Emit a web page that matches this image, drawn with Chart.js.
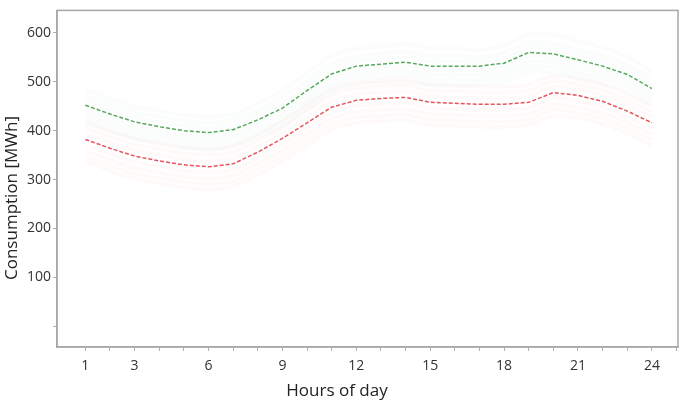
<!DOCTYPE html>
<html>
<head>
<meta charset="utf-8">
<script src="https://cdn.jsdelivr.net/npm/chart.js@4.4.1/dist/chart.umd.min.js"></script>
<style>
  body { margin: 0; background: #fff; }
  #wrap { width: 685px; height: 403px; position: relative; }
</style>
</head>
<body>
<div id="wrap"><canvas id="chart"></canvas></div>
<script>
// hours of the day
const hours = [1, 2, 3, 4, 5, 6, 7, 8, 9, 10, 11, 12, 13, 14, 15, 16, 17, 18, 19, 20, 21, 22, 23, 24];
const hourLabels = [1, 3, 6, 9, 12, 15, 18, 21, 24];
const yTicks = [0, 100, 200, 300, 400, 500, 600];

// mean profiles (dashed)
const greenMean = [452, 434, 418, 408, 400, 396, 402, 422, 446, 482, 516, 532, 536, 540, 532, 532, 532, 538, 560, 557, 545, 532, 515, 486];
const redMean = [382, 364, 348, 338, 330, 326, 332, 356, 384, 416, 448, 462, 466, 468, 458, 456, 454, 454, 458, 478, 472, 460, 440, 416];

// individual faint profiles
const greenDays = [
  [484, 466, 450, 440, 432, 428, 434, 456, 482, 518, 552, 568, 572, 576, 568, 568, 566, 574, 598, 596, 584, 570, 552, 520],
  [472, 455, 439, 428, 421, 416, 423, 442, 469, 503, 537, 551, 557, 561, 552, 553, 550, 559, 581, 577, 566, 553, 534, 505],
  [462, 444, 428, 418, 410, 406, 412, 432, 456, 492, 526, 542, 546, 550, 542, 542, 542, 548, 570, 568, 556, 542, 524, 494],
  [444, 427, 410, 401, 392, 389, 394, 415, 438, 475, 508, 525, 528, 533, 524, 525, 524, 531, 552, 549, 538, 525, 508, 479],
  [436, 418, 402, 392, 384, 380, 386, 406, 430, 464, 498, 514, 518, 522, 514, 514, 514, 520, 540, 540, 528, 516, 500, 470],
  [426, 409, 392, 383, 374, 371, 376, 397, 420, 455, 488, 505, 508, 513, 504, 505, 504, 511, 530, 531, 518, 507, 490, 463],
  [416, 398, 384, 374, 366, 362, 368, 388, 410, 444, 478, 494, 498, 500, 494, 494, 494, 500, 520, 520, 508, 496, 480, 452]
];
const redDays = [
  [418, 400, 384, 374, 366, 362, 368, 392, 420, 452, 484, 498, 502, 504, 494, 492, 490, 490, 494, 512, 506, 494, 474, 450],
  [406, 389, 372, 363, 354, 351, 356, 381, 408, 441, 472, 487, 490, 493, 482, 481, 478, 479, 482, 501, 494, 483, 462, 439],
  [394, 376, 360, 350, 342, 338, 344, 368, 396, 428, 460, 474, 478, 480, 470, 468, 466, 466, 470, 490, 484, 472, 452, 428],
  [370, 353, 336, 327, 318, 315, 320, 345, 372, 405, 436, 451, 454, 457, 446, 445, 442, 443, 446, 467, 460, 449, 428, 405],
  [358, 340, 324, 314, 306, 302, 308, 332, 360, 392, 424, 438, 442, 444, 434, 432, 430, 430, 434, 454, 448, 436, 416, 392],
  [346, 329, 312, 303, 294, 291, 296, 321, 348, 381, 412, 427, 430, 433, 422, 421, 418, 419, 422, 443, 436, 425, 404, 381],
  [336, 318, 302, 292, 284, 280, 286, 310, 338, 370, 402, 416, 420, 422, 412, 410, 408, 408, 412, 430, 426, 414, 394, 370]
];

const toPoints = (arr) => hours.map((h, i) => ({ x: h, y: arr[i] }));

const datasets = [];
greenDays.forEach((d) => {
  datasets.push({ data: toPoints(d), borderColor: "rgba(40,160,70,0.025)", borderWidth: 4, tension: 0.4, order: 2 });
});
redDays.forEach((d) => {
  datasets.push({ data: toPoints(d), borderColor: "rgba(235,40,60,0.022)", borderWidth: 4, tension: 0.4, order: 2 });
});
datasets.push({ data: toPoints(greenMean), borderColor: "#55a85c", borderWidth: 1.5, borderDash: [4, 2], order: 0 });
datasets.push({ data: toPoints(redMean), borderColor: "#e9535c", borderWidth: 1.5, borderDash: [4, 2], order: 0 });

// box around plot + figure-centred axis titles
const framePlugin = {
  id: "frame",
  afterDraw(chart) {
    const { ctx, chartArea: a } = chart;
    ctx.save();
    ctx.strokeStyle = "#a8a8a8";
    ctx.lineWidth = 1.5;
    ctx.strokeRect(a.left, a.top, a.right - a.left, a.bottom - a.top);
    ctx.fillStyle = "#222";
    ctx.font = "17px 'Open Sans'";
    ctx.textAlign = "center";
    ctx.textBaseline = "middle";
    ctx.fillText("Hours of day", 337, 391);
    ctx.translate(12, 198);
    ctx.rotate(-Math.PI / 2);
    ctx.fillText("Consumption [MWh]", 0, 0);
    ctx.restore();
  }
};

new Chart(document.getElementById("chart"), {
  type: "line",
  data: { datasets: datasets },
  options: {
    responsive: true,
    maintainAspectRatio: false,
    animation: false,
    layout: { padding: { top: 4, right: 7, left: 0, bottom: 0 } },
    elements: { point: { radius: 0 } },
    plugins: { legend: { display: false }, tooltip: { enabled: false } },
    scales: {
      x: {
        type: "linear",
        min: -0.15,
        max: 25.06,
        afterBuildTicks: (s) => { s.ticks = hours.concat([25]).map((h) => ({ value: h })); },
        afterFit: (s) => { s.height = 56; },
        border: { color: "#a8a8a8", width: 1.5 },
        grid: { drawOnChartArea: false, drawTicks: true, tickLength: 4, color: "#b0b0b0" },
        ticks: {
          autoSkip: false,
          maxRotation: 0,
          padding: 7,
          color: "#333",
          font: { family: "'Open Sans'", size: 14 },
          callback: (v) => (hourLabels.includes(v) ? String(v) : "")
        }
      },
      y: {
        min: -42.6,
        max: 646,
        afterBuildTicks: (s) => { s.ticks = yTicks.map((v) => ({ value: v })); },
        afterFit: (s) => { s.width = 57; },
        border: { color: "#a8a8a8", width: 1.5 },
        grid: { drawOnChartArea: false, drawTicks: true, tickLength: 4, color: "#b0b0b0" },
        ticks: {
          padding: 2,
          color: "#333",
          font: { family: "'Open Sans'", size: 14 },
          callback: (v) => (v === 0 ? "" : String(v))
        }
      }
    }
  },
  plugins: [framePlugin]
});
</script>
</body>
</html>
